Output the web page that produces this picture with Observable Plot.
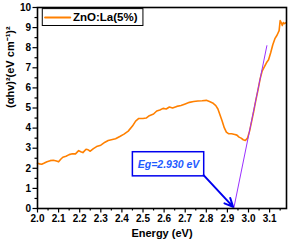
<!DOCTYPE html>
<html>
<head>
<meta charset="utf-8">
<script src="https://cdn.jsdelivr.net/npm/d3@7"></script>
<script src="https://cdn.jsdelivr.net/npm/@observablehq/plot@0.6"></script>
<style>
  html, body { margin: 0; padding: 0; background: #fff; }
  svg { font-family: "Liberation Sans", Arial, sans-serif; }
</style>
</head>
<body>
<div id="chart"></div>
<script>
// ---- data ----
const energy = [2.000,2.010,2.020,2.030,2.045,2.060,2.075,2.090,2.100,2.110,2.120,2.135,2.150,2.165,2.180,2.195,2.205,2.215,2.230,2.240,2.250,2.265,2.280,2.300,2.320,2.335,2.350,2.370,2.390,2.410,2.430,2.450,2.465,2.480,2.500,2.515,2.530,2.550,2.565,2.580,2.595,2.610,2.625,2.640,2.660,2.680,2.700,2.720,2.740,2.760,2.780,2.800,2.815,2.830,2.845,2.855,2.865,2.875,2.885,2.895,2.905,2.920,2.935,2.945,2.955,2.965,2.975,2.985,2.995,3.005,3.015,3.025,3.035,3.045,3.055,3.065,3.075,3.085,3.095,3.105,3.115,3.125,3.135,3.145,3.150,3.155,3.160,3.165,3.170,3.178];
const absorb = [2.25,2.22,2.20,2.25,2.33,2.38,2.40,2.36,2.32,2.45,2.55,2.60,2.68,2.72,2.72,2.88,2.82,2.78,2.95,2.92,2.85,2.98,3.08,3.15,3.30,3.38,3.42,3.47,3.58,3.70,3.85,4.10,4.35,4.48,4.48,4.50,4.62,4.70,4.85,4.90,4.98,4.95,5.05,5.00,5.08,5.12,5.20,5.28,5.32,5.35,5.36,5.38,5.32,5.25,5.12,4.95,4.65,4.35,4.02,3.80,3.72,3.72,3.68,3.65,3.55,3.50,3.42,3.38,3.50,3.85,4.35,4.85,5.40,5.90,6.45,6.85,7.05,7.25,7.40,7.75,8.15,8.45,8.62,8.85,9.35,9.25,9.10,9.25,9.20,9.25];
const fitX = [2.930, 3.087];
const fitY = [0, 8.1];
const arrowFrom = [2.787, 1.66];
const arrowTo = [2.927, 0.08];
const boxX = [2.452, 2.790];
const boxY = [1.6, 2.8];
const noteText = "Eg=2.930 eV";
const notePos = [2.621, 2.2];
const seriesName = "ZnO:La(5%)";
const xTitle = "Energy (eV)";
const yTitle = "(αhv)²(eV cm⁻¹)²";
const legendBoxX = [2.025, 2.502];
const legendBoxY = [9.08, 9.92];
const legendLineX = [2.036, 2.155];
const legendY = 9.5;
const legendTextX = 2.168;
const xMajor = d3.range(0, 12).map(i => +(2.0 + i * 0.1).toFixed(2));
const xMinor = d3.range(0, 24).map(i => +(2.05 + i * 0.1).toFixed(2)).filter(v => v < 3.18);
const yMajor = d3.range(0, 11);
const yMinor = d3.range(0, 10).map(i => i + 0.5);

const curve = energy.map((e, i) => ({e, v: absorb[i]}));
const fit = fitX.map((e, i) => ({e, v: fitY[i]}));

const orange = "#ff8000";
const chart = Plot.plot({
  width: 290,
  height: 246,
  marginLeft: 37,
  marginRight: 4,
  marginTop: 7,
  marginBottom: 38,
  style: {fontFamily: "Liberation Sans, Arial, sans-serif", background: "#fff"},
  x: {domain: [2.0, 3.18]},
  y: {domain: [0, 10]},
  marks: [
    Plot.axisX({ticks: xMinor, tickSize: 2.5, text: null, label: null, strokeWidth: 1.2}),
    Plot.axisX({ticks: xMajor, tickSize: 4.5, tickPadding: 2, tickFormat: d3.format(".1f"), fontSize: 10, fontWeight: "bold", fill: "#000", strokeWidth: 1.2, label: null}),
    Plot.axisY({ticks: yMinor, tickSize: 2.5, text: null, label: null, strokeWidth: 1.2}),
    Plot.axisY({ticks: yMajor, tickSize: 4.5, tickPadding: 2, fontSize: 10, fontWeight: "bold", fill: "#000", strokeWidth: 1.2, label: null}),
    Plot.text([xTitle], {frameAnchor: "bottom", dy: 28, text: d => d, fontSize: 11, fontWeight: "bold", fill: "#000"}),
    Plot.text([yTitle], {frameAnchor: "left", dx: -27, rotate: -90, text: d => d, fontSize: 11, fontWeight: "bold", fill: "#000"}),
    Plot.line(curve, {x: "e", y: "v", stroke: orange, strokeWidth: 1.6}),
    Plot.line(fit, {x: "e", y: "v", stroke: "#9b30ff", strokeWidth: 1}),
    Plot.rect([0], {x1: boxX[0], x2: boxX[1], y1: boxY[0], y2: boxY[1], fill: "#fff", stroke: "#0000ee", strokeWidth: 1.5}),
    Plot.text([noteText], {x: notePos[0], y: notePos[1], text: d => d, fill: "#1e5bff", fontSize: 10.5, fontWeight: "bold", fontStyle: "italic"}),
    Plot.arrow([0], {x1: arrowFrom[0], y1: arrowFrom[1], x2: arrowTo[0], y2: arrowTo[1], stroke: "#0000ee", strokeWidth: 2, headLength: 7, headAngle: 50}),
    Plot.rect([0], {x1: legendBoxX[0], x2: legendBoxX[1], y1: legendBoxY[0], y2: legendBoxY[1], fill: "#fff", stroke: "#000", strokeWidth: 1}),
    Plot.line(legendLineX.map(e => ({e, v: legendY})), {x: "e", y: "v", stroke: orange, strokeWidth: 2}),
    Plot.text([seriesName], {x: legendTextX, y: legendY, text: d => d, textAnchor: "start", fontSize: 11.5, fontWeight: "bold", fill: "#000"}),
    Plot.frame({stroke: "#000", strokeWidth: 1.6})
  ]
});
document.getElementById("chart").appendChild(chart);
</script>
</body>
</html>
